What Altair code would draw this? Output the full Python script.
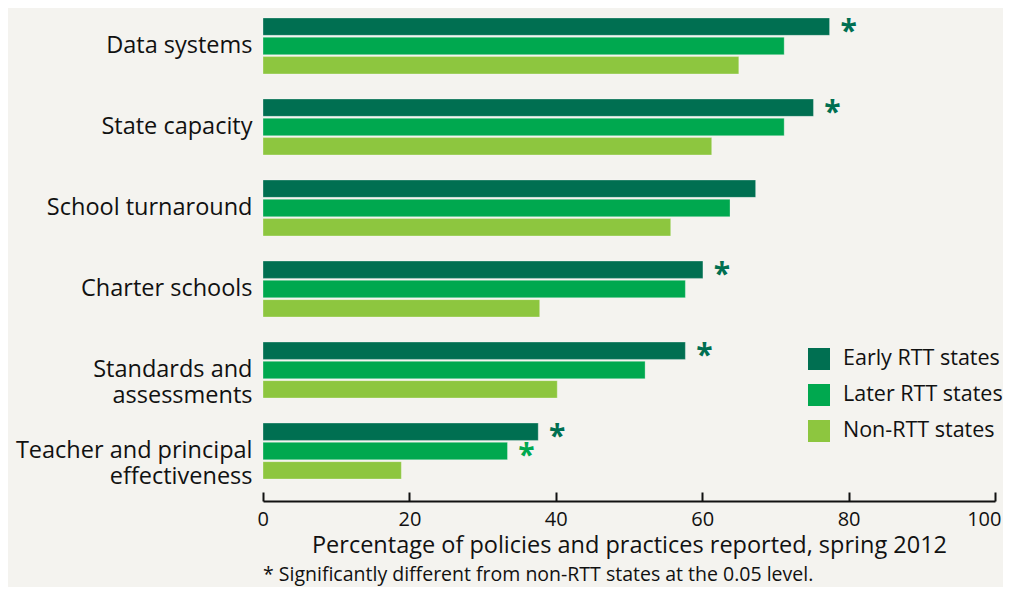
import altair as alt
import pandas as pd

categories = ["Data systems", "State capacity", "School turnaround", "Charter schools",
              "Standards and assessments", "Teacher and principal effectiveness"]
label_lines = {
    "Standards and assessments": ["Standards and", "assessments"],
    "Teacher and principal effectiveness": ["Teacher and principal", "effectiveness"],
}
series = ["Early RTT states", "Later RTT states", "Non-RTT states"]
early = [77.4, 75.2, 67.3, 60.1, 57.7, 37.6]
later = [71.2, 71.2, 63.8, 57.7, 52.2, 33.4]
non_rtt = [65.0, 61.3, 55.7, 37.8, 40.2, 18.9]
sig_early = [True, True, False, True, True, True]
sig_later = [False, False, False, False, False, True]
sig_non = [False] * 6
colors = ["#006f51", "#00a84f", "#8dc63f"]
tick_values = [0, 20, 40, 60, 80, 100]

rows = []
for vals, sigs, s in [(early, sig_early, series[0]), (later, sig_later, series[1]), (non_rtt, sig_non, series[2])]:
    for c, v, g in zip(categories, vals, sigs):
        rows.append({"category": c, "series": s, "value": v, "sig": g})
df = pd.DataFrame(rows)

expr = "datum.value"
for k, v in label_lines.items():
    expr = f"datum.value == '{k}' ? {v!r} : ({expr})"

FONT = "Open Sans"

y_enc = alt.Y("category:N", sort=categories,
              scale=alt.Scale(paddingInner=0.309, paddingOuter=0.123),
              axis=alt.Axis(title=None, ticks=False, domain=False, labelPadding=11,
                            labelFontSize=23.5, labelLineHeight=26, labelColor="#111",
                            labelLimit=320, labelExpr=expr, minExtent=255, maxExtent=255))
yoff = alt.YOffset("series:N", sort=series, scale=alt.Scale(paddingInner=0.1, paddingOuter=0))

bars = alt.Chart(df).mark_bar(stroke="#ffffff", strokeOpacity=0.5, strokeWidth=0.6).encode(
    x=alt.X("value:Q", scale=alt.Scale(domain=[0, 100]),
            axis=alt.Axis(orient="bottom", offset=12, values=tick_values, ticks=False,
                          domainColor="#111", domainWidth=2, grid=False,
                          labelFlush=True, labelFlushOffset=6,
                          labelFontSize=20, labelColor="#111", labelPadding=8,
                          title="Percentage of policies and practices reported, spring 2012",
                          titleFontSize=23.5, titleFontWeight="normal", titleColor="#111",
                          titlePadding=4)),
    y=y_enc,
    yOffset=yoff,
    color=alt.Color("series:N", sort=series,
                    scale=alt.Scale(domain=series, range=colors),
                    legend=alt.Legend(title=None, orient="none", legendX=545, legendY=340,
                                      symbolType="square", symbolSize=484, symbolStrokeWidth=0,
                                      labelFontSize=21.5, labelColor="#111", rowPadding=14,
                                      labelOffset=13, padding=0, labelLimit=300)),
)

stars = alt.Chart(df).transform_filter("datum.sig").mark_text(
    text="*", fontSize=30, fontWeight="bold", align="center", baseline="middle", dx=19, dy=5
).encode(
    x=alt.X("value:Q", scale=alt.Scale(domain=[0, 100]),
            axis=alt.Axis(orient="top", offset=-493, values=tick_values, labels=False,
                          domain=False, grid=False, title=None, ticks=True, tickSize=9,
                          tickWidth=2, tickColor="#111")),
    y=alt.Y("category:N", sort=categories),
    yOffset=alt.YOffset("series:N", sort=series),
    color=alt.Color("series:N", sort=series, legend=None),
)

chart = alt.layer(bars, stars).resolve_axis(x="independent").properties(
    width=732, height=481,
    padding={"left": 0, "top": 0, "right": 0, "bottom": 3},
    background="#f4f3ef",
    title=alt.TitleParams("* Significantly different from non-RTT states at the 0.05 level.",
                          orient="bottom", anchor="start", frame="group", fontSize=19.5,
                          fontWeight="normal", color="#111", offset=9),
).configure(font=FONT).configure_view(stroke=None)

chart.save("out.html", embed_options={"renderer": "svg", "actions": False})
